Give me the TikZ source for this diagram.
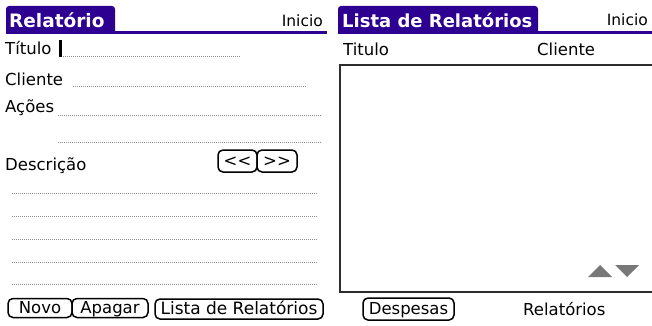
\documentclass[tikz,border=0pt]{standalone}
\usepackage{fontspec}
\setmainfont{DejaVu Sans}
\definecolor{ptitle}{RGB}{45,0,145}
\definecolor{pdot}{RGB}{140,140,140}
\definecolor{pframe}{RGB}{45,45,45}
\definecolor{parrow}{RGB}{120,120,120}
\tikzset{
  lbl/.style={anchor=base west,inner sep=0pt,font=\fontsize{16.5}{18}\selectfont},
  ttl/.style={anchor=base west,inner sep=0pt,text=white,font=\fontsize{18.5}{20}\bfseries\selectfont},
  ini/.style={anchor=base east,inner sep=0pt,font=\fontsize{15.5}{17}\selectfont},
  dots/.style={pdot,line width=1pt,dash pattern=on 1pt off 1pt},
  btn/.style={draw,line width=1.5pt,rounded corners=5pt,inner sep=0pt,text height=11.5pt,text depth=0.5pt,font=\fontsize{16.5}{18}\selectfont},
}
\begin{document}
\begin{tikzpicture}[x=1pt,y=-1pt]
\useasboundingbox (0,0) rectangle (652,326);
% ---------- left screen ----------
\fill[ptitle] (6,34) [rounded corners=3pt] -- (6,6) -- (115,6) [sharp corners] -- (115,34) -- cycle;
\fill[ptitle] (6,31) rectangle (327,34);
\node[ttl] (t1) at (9,28) {Relatório};
\node[ini] (i1) at (323,27) {Inicio};
\node[lbl] (titulo) at (5,55) {Título};
\fill (59,40) rectangle (62,57);
\coordinate (d1a) at (63,57); \coordinate (d1b) at (241,57);
\draw[dots] (d1a) -- (d1b);
\node[lbl] (cliente) at (5,85) {Cliente};
\coordinate (d2a) at (73,87); \coordinate (d2b) at (306,87);
\draw[dots] (d2a) -- (d2b);
\node[lbl] (acoes) at (5,113) {Ações};
\coordinate (d3a) at (58,115); \coordinate (d3b) at (322,115);
\draw[dots] (d3a) -- (d3b);
\coordinate (d4a) at (58,142); \coordinate (d4b) at (322,142);
\draw[dots] (d4a) -- (d4b);
\node[lbl] (descr) at (5,170) {Descrição};
\node[btn,minimum width=39pt,minimum height=22pt] (prev) at (237.5,161) {{<}{<}};
\node[btn,minimum width=40pt,minimum height=22pt] (next) at (277,161) {{>}{>}};
\foreach \yy in {193,216,239,262,284}{
  \coordinate (la) at (12,\yy); \coordinate (lb) at (318,\yy);
  \draw[dots] (la) -- (lb);
}
\node[btn,minimum width=64pt,minimum height=19pt] (novo) at (40,308) {Novo};
\node[btn,minimum width=76pt,minimum height=19pt] (apagar) at (110,308) {Apagar};
\node[btn,minimum width=168pt,minimum height=20pt,font=\fontsize{17}{18}\selectfont] (lista) at (239,309) {Lista de Relatórios};
% ---------- right screen ----------
\fill[ptitle] (338,34) [rounded corners=3pt] -- (338,6) -- (538,6) [sharp corners] -- (538,34) -- cycle;
\fill[ptitle] (338,31) rectangle (652,34);
\node[ttl,font=\fontsize{18}{20}\bfseries\selectfont] (t2) at (342,28) {Lista de Relatórios};
\node[ini] (i2) at (648,26) {Inicio};
\node[lbl] (tit2) at (343,56) {Titulo};
\node[lbl] (cli2) at (537,56) {Cliente};
\draw[pframe,line width=2.2pt] (653,65) -- (340,65) -- (340,292) -- (653,292);
\fill[parrow] (588,277) -- (600,265) -- (612,277) -- cycle;
\fill[parrow] (615,265) -- (639,265) -- (627,277) -- cycle;
\node[btn,minimum width=91pt,minimum height=22pt] (desp) at (408.5,309) {Despesas};
\node[lbl] (rel2) at (523,315) {Relatórios};
\end{tikzpicture}
\end{document}
